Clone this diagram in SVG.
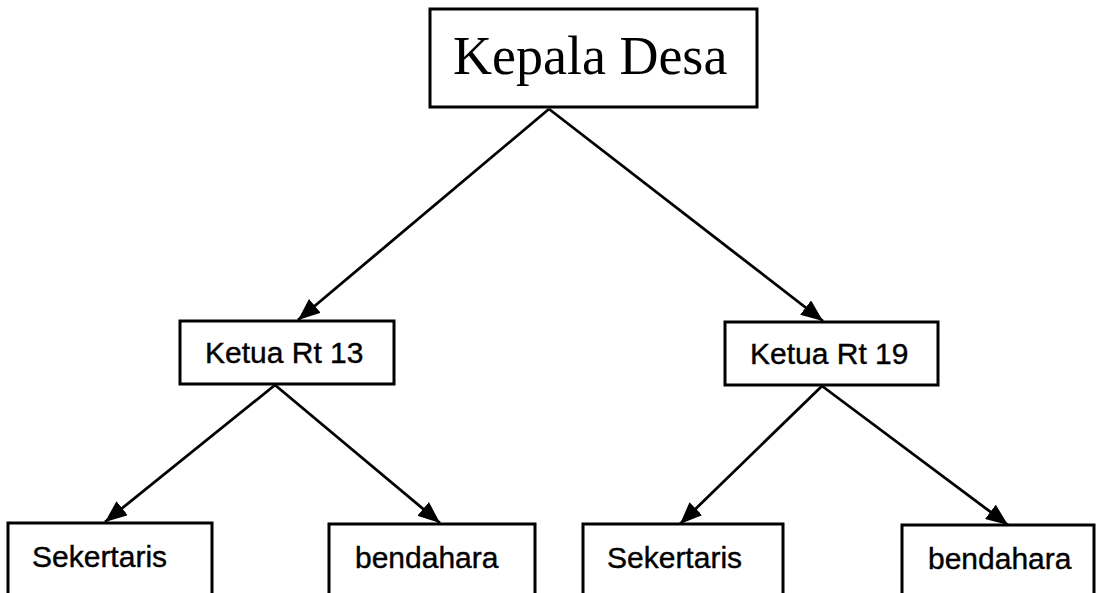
<svg xmlns="http://www.w3.org/2000/svg" width="1097" height="593" viewBox="0 0 1097 593">
  <defs>
    <marker id="arrow" markerUnits="userSpaceOnUse" markerWidth="22" markerHeight="18" viewBox="0 0 22 18" refX="22" refY="9" orient="auto">
      <path d="M0,0 L22,9 L0,18 z" fill="#000"/>
    </marker>
    <style>
      .box { fill: #fff; stroke: #000; stroke-width: 3; }
      .conn { stroke: #000; stroke-width: 2.8; fill: none; marker-end: url(#arrow); }
      .sans { font-family: "Liberation Sans", Arial, sans-serif; font-size: 30px; fill: #000; stroke: #000; stroke-width: 0.4; }
      .serif { font-family: "Liberation Serif", "Times New Roman", serif; font-size: 54px; fill: #000; }
    </style>
  </defs>
  <rect width="1097" height="593" fill="#fff"/>
  <g id="connectors">
    <line class="conn" x1="549" y1="109" x2="298" y2="320"/>
    <line class="conn" x1="549" y1="109" x2="823" y2="321"/>
    <line class="conn" x1="275" y1="385" x2="105" y2="522"/>
    <line class="conn" x1="275" y1="385" x2="440" y2="523"/>
    <line class="conn" x1="822" y1="386" x2="680" y2="524"/>
    <line class="conn" x1="822" y1="386" x2="1008" y2="525"/>
  </g>
  <g id="kepala-desa">
    <rect class="box" x="430" y="9" width="327" height="98"/>
    <text class="serif" x="453" y="74">Kepala Desa</text>
  </g>
  <g id="ketua-rt-13">
    <rect class="box" x="180" y="321" width="214" height="63"/>
    <text class="sans" x="205" y="363">Ketua Rt 13</text>
  </g>
  <g id="ketua-rt-19">
    <rect class="box" x="725" y="322" width="213" height="63"/>
    <text class="sans" x="750" y="364">Ketua Rt 19</text>
  </g>
  <g id="sekertaris-13">
    <rect class="box" x="8" y="523" width="204" height="90"/>
    <text class="sans" x="32" y="567">Sekertaris</text>
  </g>
  <g id="bendahara-13">
    <rect class="box" x="329" y="524" width="206" height="90"/>
    <text class="sans" x="355" y="568">bendahara</text>
  </g>
  <g id="sekertaris-19">
    <rect class="box" x="583" y="524" width="200" height="90"/>
    <text class="sans" x="607" y="568">Sekertaris</text>
  </g>
  <g id="bendahara-19">
    <rect class="box" x="902" y="525" width="192" height="90"/>
    <text class="sans" x="928" y="569">bendahara</text>
  </g>
</svg>
